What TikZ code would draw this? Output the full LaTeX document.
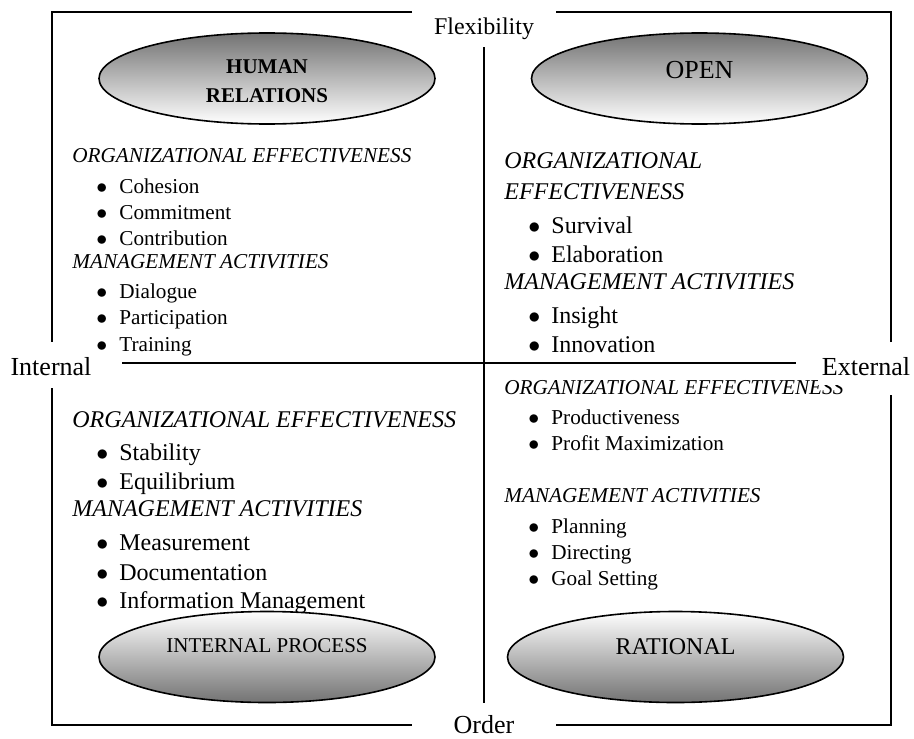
\documentclass[tikz,border=0pt]{standalone}
\usepackage{fontspec}
\setmainfont{Liberation Serif}
\usetikzlibrary{shapes.geometric}

\newcommand{\blt}[1]{\makebox[11.5pt][l]{$\bullet$}#1}

\begin{document}
\begin{tikzpicture}[x=0.5pt, y=-0.5pt,
  hdr/.style={anchor=base west, inner sep=0pt, execute at begin node=\itshape},
  itm/.style={anchor=base west, inner sep=0pt},
  sm/.style={font=\fontsize{10.6}{12}\selectfont},
  lg/.style={font=\fontsize{12}{14}\selectfont},
  axlabel/.style={font=\fontsize{13}{15}\selectfont, anchor=base},
  oval/.style={ellipse, draw, line width=0.8pt, minimum width=168pt, minimum height=45.5pt, inner sep=0pt},
  upper/.style={oval, top color=black!55, bottom color=white},
  lower/.style={oval, top color=white, bottom color=black!55},
  frame/.style={line width=0.8pt},
  axis/.style={line width=1.1pt}]
  \useasboundingbox (0,0) rectangle (914,738);

  % outer frame, left open at the four axis labels
  \draw[frame] (412,12) -- (52,12) -- (52,342);
  \draw[frame] (52,388) -- (52,725) -- (412,725);
  \draw[frame] (556,725) -- (891,725) -- (891,395);
  \draw[frame] (891,342) -- (891,12) -- (556,12);

  \node[axlabel, font=\fontsize{12}{14}\selectfont] (flex) at (484,35) {Flexibility};
  \node[axlabel] (order) at (484,733) {Order};
  \node[axlabel] (int) at (51,375) {Internal};

  % human relations
  \begin{scope}[sm]
    \node[hdr] (hr-oe) at (72,162) {ORGANIZATIONAL EFFECTIVENESS};
    \foreach \i/\y/\t in {1/193/Cohesion, 2/219/Commitment, 3/245/Contribution}
      \node[itm] (hr-oe\i) at (96,\y) {\blt{\t}};
    \node[hdr] (hr-ma) at (72,268) {MANAGEMENT ACTIVITIES};
    \foreach \i/\y/\t in {1/298/Dialogue, 2/324/Participation, 3/351/Training}
      \node[itm] (hr-ma\i) at (96,\y) {\blt{\t}};
  \end{scope}

  % open system
  \begin{scope}[lg]
    \node[hdr] (op-oe) at (504,168) {ORGANIZATIONAL};
    \node[hdr] (op-oe0) at (504,199) {EFFECTIVENESS};
    \foreach \i/\y/\t in {1/233/Survival, 2/262/Elaboration}
      \node[itm] (op-oe\i) at (528,\y) {\blt{\t}};
    \node[hdr] (op-ma) at (504,289) {MANAGEMENT ACTIVITIES};
    \foreach \i/\y/\t in {1/323/Insight, 2/352/Innovation}
      \node[itm] (op-ma\i) at (528,\y) {\blt{\t}};
  \end{scope}

  % internal process
  \begin{scope}[lg]
    \node[hdr] (ip-oe) at (72,427) {ORGANIZATIONAL EFFECTIVENESS};
    \foreach \i/\y/\t in {1/460/Stability, 2/489/Equilibrium}
      \node[itm] (ip-oe\i) at (96,\y) {\blt{\t}};
    \node[hdr] (ip-ma) at (72,516) {MANAGEMENT ACTIVITIES};
    \foreach \i/\y/\t in {1/550/Measurement, 2/580/Documentation, 3/608/Information Management}
      \node[itm] (ip-ma\i) at (96,\y) {\blt{\t}};
  \end{scope}

  % rational goal
  \begin{scope}[sm]
    \node[hdr] (ra-oe) at (504,394) {ORGANIZATIONAL EFFECTIVENESS};
    \foreach \i/\y/\t in {1/424/Productiveness, 2/450/Profit Maximization}
      \node[itm] (ra-oe\i) at (528,\y) {\blt{\t}};
    \node[hdr] (ra-ma) at (504,502) {MANAGEMENT ACTIVITIES};
    \foreach \i/\y/\t in {1/533/Planning, 2/559/Directing, 3/585/Goal Setting}
      \node[itm] (ra-ma\i) at (528,\y) {\blt{\t}};
  \end{scope}

  \node[axlabel, fill=white, inner xsep=2pt, inner ysep=5pt] (ext) at (866,375) {External};

  % the two axes
  \draw[axis, shorten >=2.5pt] (flex) -- (order);
  \draw[axis, shorten <=12pt, shorten >=11pt] ([yshift=1.5pt]int.east) -- ([yshift=1.5pt]ext.west);

  % the four models
  \node[upper, font=\bfseries\fontsize{10.5}{14.5}\selectfont, align=center, text height=24.5pt] (hr) at (267,78.5) {HUMAN\\RELATIONS};
  \node[upper, font=\fontsize{13}{15}\selectfont, text depth=8.5pt] (open) at (699.5,78.5) {OPEN};
  \node[lower, font=\fontsize{10.5}{12}\selectfont, text depth=11.5pt] (ip) at (267,657) {INTERNAL PROCESS};
  \node[lower, font=\fontsize{12}{14}\selectfont, text depth=10pt] (rat) at (675.5,657) {RATIONAL};
\end{tikzpicture}
\end{document}
